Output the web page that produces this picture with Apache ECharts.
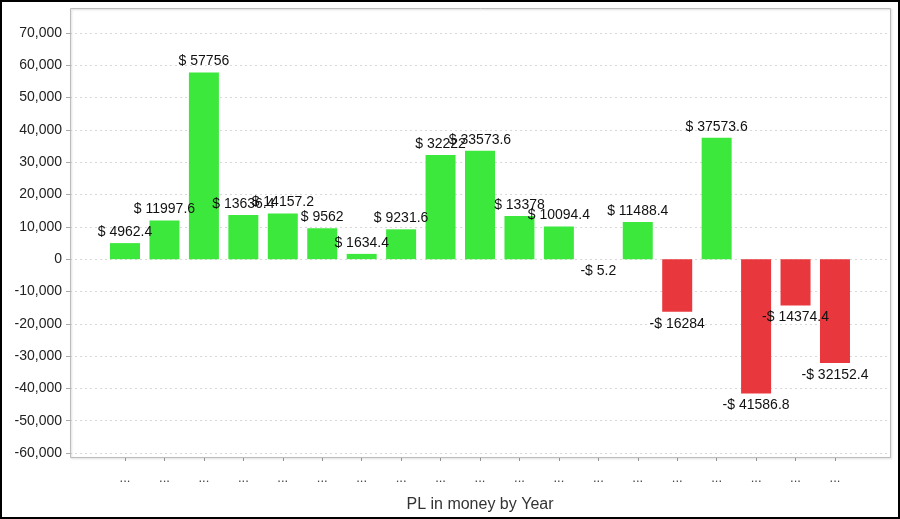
<!DOCTYPE html>
<html>
<head>
<meta charset="utf-8">
<script src="https://cdn.jsdelivr.net/npm/echarts@6/dist/echarts.min.js"></script>
<style>
html,body{margin:0;padding:0;background:#fff;}
#chart{width:900px;height:519px;}
</style>
</head>
<body>
<div id="chart"></div>
<script>
var categories = ['...','...','...','...','...','...','...','...','...','...','...','...','...','...','...','...','...','...','...'];
var plValues = [4962.4, 11997.6, 57756, 13636.4, 14157.2, 9562, 1634.4, 9231.6, 32222, 33573.6, 13378, 10094.4, -5.2, 11488.4, -16284, 37573.6, -41586.8, -14374.4, -32152.4];
var yTicks = { min: -60000, max: 70000, step: 10000 };
var axisTitle = 'PL in money by Year';

var FONT = '"Liberation Sans", Arial, sans-serif';
var chart = echarts.init(document.getElementById('chart'), null, {renderer: 'canvas'});

var barData = plValues.map(function (v) {
  var neg = v < 0;
  return {
    value: v,
    itemStyle: { color: neg ? '#e8383d' : '#3de83d' },
    label: { position: neg ? 'bottom' : 'top', distance: neg ? 5 : 4 }
  };
});

function money(v) {
  return (v < 0 ? '-$ ' : '$ ') + String(Math.abs(v));
}

chart.setOption({
  animation: false,
  backgroundColor: '#fff',
  grid: [
    { left: 70, right: 10, top: 33, bottom: 66 },
    { left: 105.3, right: 45.3, top: 33, bottom: 66 }
  ],
  xAxis: [
    { type: 'value', gridIndex: 0, show: false, min: 0, max: 1 },
    {
      type: 'category', gridIndex: 1, data: categories, offset: 4,
      axisLine: { show: false, onZero: false },
      axisTick: { show: true, alignWithLabel: true, length: 4, lineStyle: { color: '#999' } },
      axisLabel: { color: '#444', fontSize: 13, fontFamily: FONT, margin: 15, interval: 0 },
      name: axisTitle, nameLocation: 'middle', nameGap: 40,
      nameTextStyle: { color: '#333', fontSize: 16, fontFamily: FONT }
    }
  ],
  yAxis: [
    {
      type: 'value', gridIndex: 0, min: yTicks.min, max: yTicks.max, interval: yTicks.step,
      axisLine: { show: false },
      axisTick: { show: true, length: 4, lineStyle: { color: '#aaa' } },
      axisLabel: {
        color: '#222', fontSize: 14, fontFamily: FONT, margin: 8,
        formatter: function (v) { return v.toLocaleString('en-US'); }
      },
      splitLine: { show: true, lineStyle: { color: '#d8d8d8', type: [2, 3], width: 1 } }
    },
    {
      type: 'value', gridIndex: 1, min: yTicks.min, max: yTicks.max, interval: yTicks.step,
      show: false, splitLine: { show: false }
    }
  ],
  series: [
    {
      type: 'bar',
      xAxisIndex: 1, yAxisIndex: 1,
      barWidth: 30,
      data: barData,
      label: {
        show: true, color: '#111', fontSize: 14, fontFamily: FONT,
        formatter: function (p) { return money(p.value); }
      }
    }
  ],
  graphic: [
    {
      type: 'rect', z: 100, silent: true,
      shape: { x: 70.5, y: 8.5, width: 820, height: 449 },
      style: { fill: null, stroke: '#bdbdbd', lineWidth: 1,
               shadowColor: 'rgba(0,0,0,0.18)', shadowOffsetX: 1, shadowOffsetY: 1, shadowBlur: 2 }
    },
    {
      type: 'rect', z: 100, silent: true,
      shape: { x: 1, y: 1, width: 898, height: 517 },
      style: { fill: null, stroke: '#000', lineWidth: 2 }
    }
  ]
});
</script>
</body>
</html>
